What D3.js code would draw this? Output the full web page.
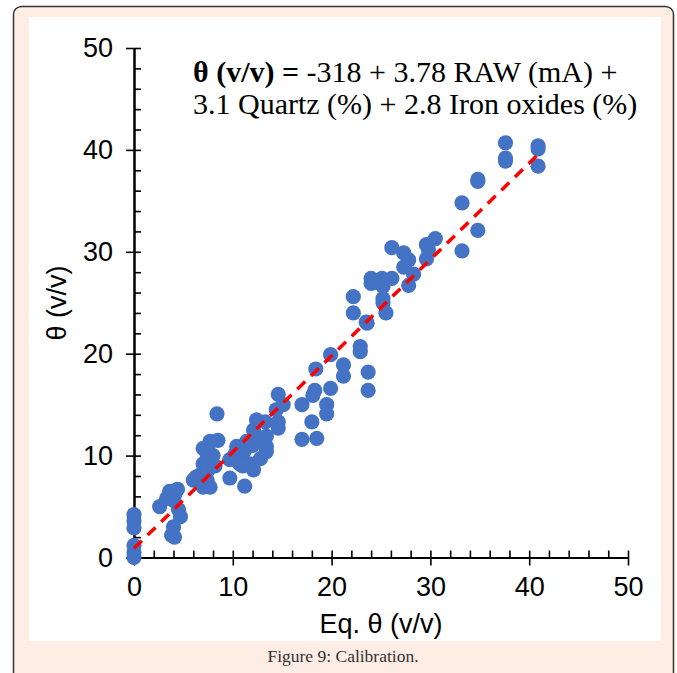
<!DOCTYPE html>
<html>
<head>
<meta charset="utf-8">
<script src="https://cdn.jsdelivr.net/npm/d3@7"></script>
<style>
  html, body { margin: 0; padding: 0; background: #ffffff; }
  svg { display: block; }
</style>
</head>
<body>
<script>
// ---- data ----
const measuredX = [
  0,0,0,0,0,0,
  2.6,3.3,3.6,4.1,4.0,4.5,4.7,4.0,3.8,4.1,4.4,
  6.0,6.3,6.7,7.0,7.4,7.7,7.0,7.5,7.0,7.4,7.5,7.7,8.5,8.4,8.0,8.2,
  9.7,9.7,10.2,10.7,10.9,11.2,11.2,11.7,12.1,12.8,13.4,13.4,12.4,12.1,13.4,12.4,13.3,14.6,14.6,14.4,14.6,11.4,10.4,12.0,11.0,
  15.1,17.0,18.1,18.3,18.0,17.0,18.5,18.4,19.9,19.5,19.5,19.9,
  21.2,21.2,22.2,22.2,22.9,22.9,23.5,23.7,23.7,23.6,
  24.0,24.0,25.1,26.1,25.2,24.6,25.2,25.2,25.5,26.1,27.3,27.8,27.3,28.3,27.8,24.3,
  29.6,30.5,29.6,29.8,33.2,34.8,34.8,34.8,33.2,37.6,37.6,37.6,40.9,40.9,40.9
];
const measuredY = [
  4.2,3.6,2.9,1.2,0.5,0.0,
  5.0,5.8,6.5,6.1,5.6,4.7,4.0,3.0,2.2,2.0,6.7,
  7.6,7.9,8.1,6.9,7.6,6.9,9.2,8.6,10.7,10.1,10.9,11.4,11.5,14.1,10.0,9.0,
  7.8,9.6,10.1,9.2,9.9,10.5,7.0,9.2,8.6,9.7,10.4,10.9,11.4,12.5,11.9,13.5,13.3,12.7,13.3,14.5,16.0,11.4,10.9,11.0,9.0,
  15.0,15.0,15.9,16.4,13.3,11.6,11.7,18.5,16.6,15.0,14.1,19.9,
  18.9,17.8,25.6,24.0,20.7,20.2,23.1,18.2,16.4,23.0,
  27.4,26.9,27.4,27.4,26.6,27.0,25.4,25.0,24.0,30.4,29.9,29.2,28.5,27.8,26.7,27.2,
  30.7,31.3,29.3,30.2,34.8,37.1,36.9,32.1,30.1,40.7,39.2,38.9,40.4,40.1,38.4
];
const fitLine = { intercept: 0.9, slope: 0.945, xStart: 0, xEnd: 41 };
const majorTicks = [0, 10, 20, 30, 40, 50];
const minorTicks = d3.range(0, 51, 2);
const xTitle = "Eq. θ (v/v)";
const yTitle = "θ (v/v)";
const eqBold = "θ (v/v) =";
const eqLine1 = " -318 + 3.78 RAW (mA) +";
const eqLine2 = "3.1 Quartz (%) + 2.8 Iron oxides (%)";
const caption = "Figure 9: Calibration.";

// ---- drawing ----
const W = 677, H = 673;
const svg = d3.select("body").append("svg").attr("width", W).attr("height", H);

// frame
svg.append("rect").attr("x", 13.5).attr("y", 6.5).attr("width", 660).attr("height", 690)
  .attr("rx", 8).attr("fill", "#fdede5").attr("stroke", "#333").attr("stroke-width", 1.5);
svg.append("rect").attr("x", 29).attr("y", 17).attr("width", 632).attr("height", 624).attr("fill", "#ffffff");

const x = d3.scaleLinear().domain([0, 50]).range([134, 628]);
const y = d3.scaleLinear().domain([0, 50]).range([557.5, 48]);

const axisFont = "Liberation Sans, Arial, sans-serif";

// y axis: major (outward, labelled) + minor (inward)
const gy = svg.append("g").attr("transform", `translate(${x(0)},0)`);
gy.call(d3.axisLeft(y).tickValues(majorTicks).tickSize(8).tickPadding(13).tickSizeOuter(0));
const gy2 = svg.append("g").attr("transform", `translate(${x(0)},0)`);
gy2.call(d3.axisRight(y).tickValues(minorTicks).tickSize(7).tickFormat("").tickSizeOuter(0));

// x axis
const gx = svg.append("g").attr("transform", `translate(0,${y(0)})`);
gx.call(d3.axisBottom(x).tickValues(majorTicks).tickSize(8).tickPadding(11).tickSizeOuter(0));
const gx2 = svg.append("g").attr("transform", `translate(0,${y(0)})`);
gx2.call(d3.axisTop(x).tickValues(minorTicks).tickSize(7).tickFormat("").tickSizeOuter(0));

svg.selectAll(".domain").attr("stroke", "#000").attr("stroke-width", 2);
svg.selectAll(".tick line").attr("stroke", "#000").attr("stroke-width", 1.6);
svg.selectAll(".tick text").attr("font-family", axisFont).attr("font-size", 27).attr("fill", "#000");

// points
const pts = measuredX.map((d, i) => [d, measuredY[i]]);
svg.append("g").selectAll("circle").data(pts).join("circle")
  .attr("cx", d => x(d[0])).attr("cy", d => y(d[1])).attr("r", 7.6)
  .attr("fill", "#4472c4");

// fit line
svg.append("line")
  .attr("x1", x(fitLine.xStart)).attr("y1", y(fitLine.intercept + fitLine.slope * fitLine.xStart))
  .attr("x2", x(fitLine.xEnd)).attr("y2", y(fitLine.intercept + fitLine.slope * fitLine.xEnd))
  .attr("stroke", "#ff0000").attr("stroke-width", 3.5).attr("stroke-dasharray", "11,8");

// titles
svg.append("text").attr("x", 381).attr("y", 633).attr("text-anchor", "middle")
  .attr("font-family", axisFont).attr("font-size", 27).text(xTitle);
svg.append("text").attr("transform", "translate(66,303) rotate(-90)").attr("text-anchor", "middle")
  .attr("font-family", axisFont).attr("font-size", 27).text(yTitle);

// equation
const eq = svg.append("text").attr("x", 193).attr("y", 82)
  .attr("font-family", "Liberation Serif, Times New Roman, serif").attr("font-size", 30).attr("fill", "#000");
eq.append("tspan").attr("font-weight", "bold").text(eqBold);
eq.append("tspan").text(eqLine1);
svg.append("text").attr("x", 193).attr("y", 114)
  .attr("font-family", "Liberation Serif, Times New Roman, serif").attr("font-size", 30).attr("fill", "#000")
  .text(eqLine2);

// caption
svg.append("text").attr("x", 343).attr("y", 662).attr("text-anchor", "middle")
  .attr("font-family", "Liberation Serif, Times New Roman, serif").attr("font-size", 17.5).attr("fill", "#333")
  .text(caption);
</script>
</body>
</html>
